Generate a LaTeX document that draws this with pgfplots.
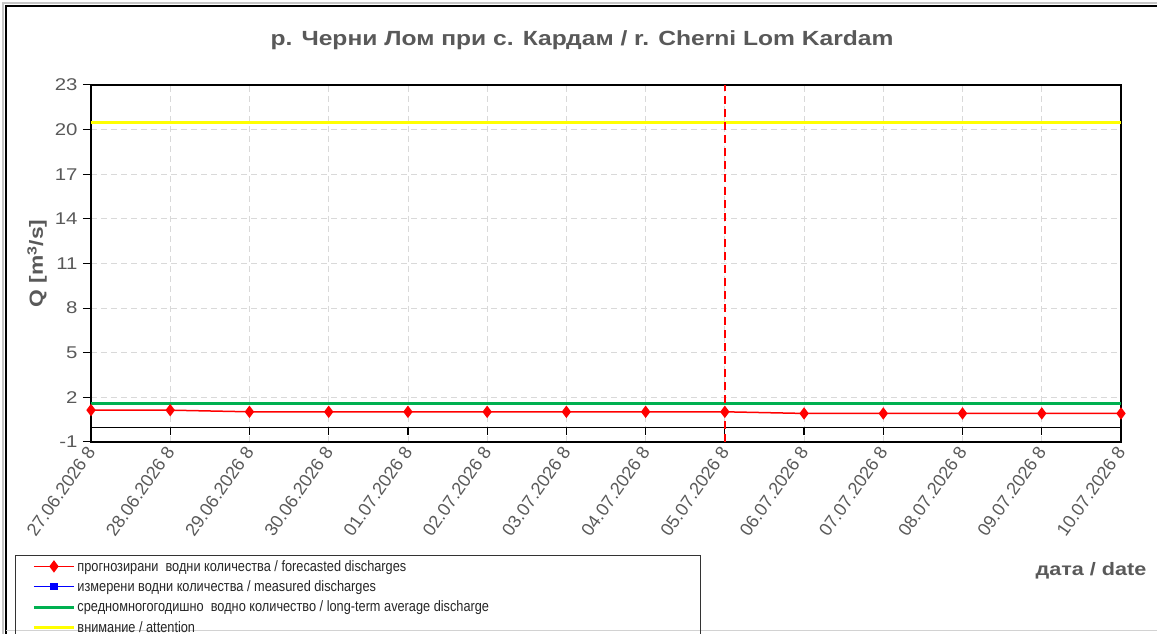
\documentclass[border=0pt]{standalone}
\usepackage{fontspec}
\setmainfont[FakeStretch=1.2]{Liberation Sans}
\newfontfamily\legfont[FakeStretch=0.85]{Liberation Sans}
\newfontfamily\plainfont{Liberation Sans}
\usepackage{pgfplots}
\pgfplotsset{compat=1.18}
\definecolor{txtgray}{HTML}{595959}
\definecolor{grn}{HTML}{00B050}
\definecolor{ylw}{HTML}{FFFF00}
\begin{document}
\begin{tikzpicture}[x=1pt,y=1pt]
\path[use as bounding box] (0,0) rectangle (1157,634);
\draw[gray!45, line width=1.5pt] (3,0) -- (3,631) -- (1157,631);
\draw[black, line width=1.5pt] (6,0) -- (6,628) -- (1157,628);
\draw[gray!35, line width=1pt] (6,3) -- (1157,3);
\draw[black!80, line width=0.8pt] (15,-5) rectangle (700,79);
\begin{axis}[
  at={(91pt,192pt)}, anchor=south west,
  scale only axis, width=1030pt, height=357pt,
  xmin=0, xmax=13, ymin=-1, ymax=23,
  xtick={0,...,13},
  xticklabels={27.06.2026 8,28.06.2026 8,29.06.2026 8,30.06.2026 8,01.07.2026 8,02.07.2026 8,03.07.2026 8,04.07.2026 8,05.07.2026 8,06.07.2026 8,07.07.2026 8,08.07.2026 8,09.07.2026 8,10.07.2026 8},
  ytick={-1,2,5,8,11,14,17,20,23},
  yticklabels={-1,2,5,8,11,14,17,20,23},
  x tick label style={rotate=55, anchor=east, font=\plainfont\fontsize{18}{18}\selectfont, text=txtgray, xshift=5pt, yshift=1pt},
  y tick label style={font=\fontsize{17}{17}\selectfont, text=txtgray, xshift=-2pt},
  xtick pos=bottom, ytick pos=left,
  xtick style={draw=none},
  ytick style={black, line width=1pt},
  major tick length=8pt, tick align=outside,
  grid=major,
  major grid style={gray!30, line width=0.8pt, dash pattern=on 6pt off 4pt},
  axis line style={black, line width=1.6pt},
  title={р. Черни Лом при с. Кардам / r. Cherni Lom Kardam},
  title style={at={(axis description cs:0.4767,1.095)}, anchor=base, font=\bfseries\fontsize{20.5}{20.5}\selectfont, text=txtgray},
  ylabel={Q [m\textsuperscript{3}/s]},
  ylabel style={at={(axis description cs:-0.0524,0.5)}, anchor=center, font=\bfseries\fontsize{19}{19}\selectfont, text=txtgray},
  xlabel={дата / date},
  xlabel style={at={(axis description cs:1.028,-0.375)}, anchor=base east, font=\bfseries\fontsize{18}{18}\selectfont, text=txtgray},
  legend style={at={(-0.057,-0.325)}, anchor=north west, draw=none, fill=none, inner sep=0pt,
    font=\legfont\fontsize{15}{15}\selectfont, text=black!85, row sep=4pt,
    cells={anchor=west}},
  legend image code/.code={\draw[mark repeat=2,mark phase=2,#1] plot coordinates {(0pt,0pt) (20pt,0pt) (40pt,0pt)};},
  clip=false,
]
\addplot[red, line width=1.5pt, mark=diamond*, mark size=5pt, mark options={fill=red, draw=red}] coordinates {
 (0,1.14) (1,1.14) (2,1.03) (3,1.03) (4,1.03) (5,1.03) (6,1.03) (7,1.03) (8,1.03) (9,0.92) (10,0.92) (11,0.92) (12,0.92) (13,0.92)};
\addlegendentry{прогнозирани \ водни количества / forecasted discharges}
\addlegendimage{blue, line width=1.1pt, mark=square*, mark size=3pt}
\addlegendentry{измерени водни количества / measured discharges}
\addplot[grn, line width=3pt] coordinates {(0,1.62) (13,1.62)};
\addlegendentry{средномногогодишно \ водно количество / long-term average discharge}
\addplot[ylw, line width=3pt] coordinates {(0,20.47) (13,20.47)};
\addlegendentry{внимание / attention}
\addplot[black, line width=1.2pt, forget plot] coordinates {(0,0) (13,0)};
\addplot[black, line width=1.2pt, ycomb, forget plot] coordinates {(1,-0.5) (2,-0.5) (3,-0.5) (4,-0.5) (5,-0.5) (6,-0.5) (7,-0.5) (8,-0.5) (9,-0.5) (10,-0.5) (11,-0.5) (12,-0.5)};
\addplot[red, line width=2pt, dash pattern=on 8pt off 5pt, forget plot] coordinates {(8,-1) (8,23)};
\end{axis}
\end{tikzpicture}
\end{document}
